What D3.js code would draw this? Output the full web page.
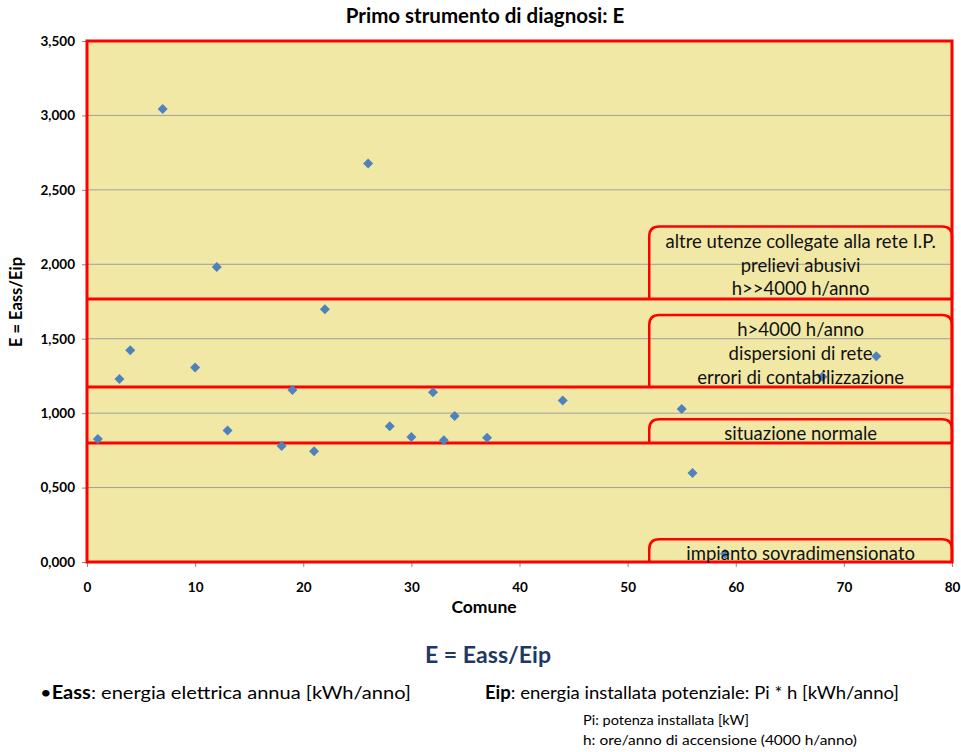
<!DOCTYPE html>
<html>
<head>
<meta charset="utf-8">
<script src="https://cdn.jsdelivr.net/npm/d3@7"></script>
<style>
  body { margin: 0; background: #fff; }
  text { font-family: Lato, "Open Sans", sans-serif; }
</style>
</head>
<body>
<div id="chart"></div>
<script>
// scatter of E = Eass/Eip per comune

var comuneX = [1, 3, 4, 7, 10, 12, 13, 18, 19, 21, 22, 26, 28, 30, 32, 33, 34, 37, 44, 55, 56, 59, 68, 73];
var valoreE = [0.826, 1.23, 1.423, 3.044, 1.306, 1.982, 0.883, 0.78, 1.156, 0.744, 1.698, 2.677, 0.912, 0.84, 1.14, 0.818, 0.981, 0.835, 1.085, 1.028, 0.598, 0.056, 1.245, 1.382];

var xTicks = [0, 10, 20, 30, 40, 50, 60, 70, 80];
var yTicks = [0, 0.5, 1, 1.5, 2, 2.5, 3, 3.5];

// soglie (linee rosse)
var soglie = [0.8, 1.176, 1.767];

// zone annotate: from/to in E, testo
var zoneTop = [2.253, 1.66, 0.959, 0.153];
var zoneBottom = [1.767, 1.176, 0.8, 0];
var zoneLabels = [
    ["altre utenze collegate alla rete I.P.", "prelievi abusivi", "h>>4000 h/anno"],
    ["h>4000 h/anno", "dispersioni di rete", "errori di contabilizzazione"],
    ["situazione normale"],
    ["impianto sovradimensionato"]
];
var zoneXStart = 52;

var W = 961, H = 752;
var margin = { top: 41, right: 9, bottom: 190, left: 87 },
    width = W - margin.left - margin.right,
    height = H - margin.top - margin.bottom;

var svgRoot = d3.select("#chart").append("svg")
    .attr("width", W)
    .attr("height", H);

var svg = svgRoot.append("g")
    .attr("transform", "translate(" + margin.left + "," + margin.top + ")");

var x = d3.scaleLinear().domain([0, 80]).range([0, width]);
var y = d3.scaleLinear().domain([0, 3.5]).range([height, 0]);

// plot background
svg.append("rect")
    .attr("width", width)
    .attr("height", height)
    .attr("fill", "#F2E8A5");

// gridlines
svg.append("g")
    .selectAll("line")
    .data(yTicks.filter(function (d) { return d > 0 && d < 3.5; }))
    .enter()
    .append("line")
    .attr("x1", 0)
    .attr("x2", width)
    .attr("y1", function (d) { return y(d); })
    .attr("y2", function (d) { return y(d); })
    .attr("stroke", "#9f9f9f")
    .attr("stroke-width", 1);

// axes
var fmtY = function (d) { return d3.format(".3f")(d).replace(".", ","); };

var yAxis = svg.append("g")
    .call(d3.axisLeft(y).tickValues(yTicks).tickFormat(fmtY).tickSize(5).tickPadding(7));
var xAxis = svg.append("g")
    .attr("transform", "translate(0," + height + ")")
    .call(d3.axisBottom(x).tickValues(xTicks).tickSize(5).tickPadding(15));

[xAxis, yAxis].forEach(function (a) {
    a.select(".domain").remove();
    a.selectAll("line").attr("stroke", "#888");
    a.selectAll("text")
        .style("font-size", "13.5px")
        .style("font-weight", "bold")
        .attr("fill", "#000");
});

// top-rounded box path
function boxPath(x0, y0, x1, y1, r) {
    return "M" + x0 + "," + y1 +
        "L" + x0 + "," + (y0 + r) +
        "Q" + x0 + "," + y0 + " " + (x0 + r) + "," + y0 +
        "L" + (x1 - r) + "," + y0 +
        "Q" + x1 + "," + y0 + " " + x1 + "," + (y0 + r) +
        "L" + x1 + "," + y1;
}

// annotation boxes
svg.append("g")
    .selectAll("path")
    .data(zoneTop)
    .enter()
    .append("path")
    .attr("d", function (d, i) { return boxPath(x(zoneXStart), y(d), width, y(zoneBottom[i]), 10); })
    .attr("fill", "none")
    .attr("stroke", "#FF0000")
    .attr("stroke-width", 2.5);

// threshold lines
svg.append("g")
    .selectAll("line")
    .data(soglie)
    .enter()
    .append("line")
    .attr("x1", 0)
    .attr("x2", width)
    .attr("y1", function (d) { return y(d); })
    .attr("y2", function (d) { return y(d); })
    .attr("stroke", "#FF0000")
    .attr("stroke-width", 3);

// frame
svg.append("rect")
    .attr("width", width)
    .attr("height", height)
    .attr("fill", "none")
    .attr("stroke", "#FF0000")
    .attr("stroke-width", 3);

// points (square rotated 45deg, like excel diamond)
svg.append("g")
    .selectAll("path")
    .data(comuneX)
    .enter()
    .append("path")
    .attr("d", d3.symbol().type(d3.symbolSquare).size(50))
    .attr("transform", function (d, i) { return "translate(" + x(d) + "," + y(valoreE[i]) + ") rotate(45)"; })
    .attr("fill", "#4F81BD");

// box labels
zoneLabels.forEach(function (lines, i) {
    var cy = (y(zoneTop[i]) + y(zoneBottom[i])) / 2 + 2.5;
    var cx = (x(zoneXStart) + width) / 2;
    var lh = 23.7;
    lines.forEach(function (t, j) {
        svg.append("text")
            .text(t)
            .attr("x", cx)
            .attr("y", cy + (j - (lines.length - 1) / 2) * lh)
            .attr("dy", "0.35em")
            .attr("text-anchor", "middle")
            .style("font-size", "18.5px")
            .attr("fill", "#111");
    });
});

// titles
svgRoot.append("text")
    .text("Primo strumento di diagnosi: E")
    .attr("x", 485).attr("y", 23)
    .attr("text-anchor", "middle")
    .style("font-size", "20.5px").style("font-weight", "bold");

svgRoot.append("text")
    .text("Comune")
    .attr("x", 484).attr("y", 613)
    .attr("text-anchor", "middle")
    .style("font-size", "17.5px").style("font-weight", "bold");

svgRoot.append("text")
    .text("E  = Eass/Eip")
    .attr("transform", "translate(22,302) rotate(-90)")
    .attr("text-anchor", "middle")
    .style("font-size", "16.5px").style("font-weight", "bold");

// formula and notes below chart
svgRoot.append("text")
    .text("E = Eass/Eip")
    .attr("x", 425).attr("y", 663)
    .attr("textLength", 126).attr("lengthAdjust", "spacingAndGlyphs")
    .style("font-size", "22px").style("font-weight", "bold")
    .attr("fill", "#1F3864");

var t1 = svgRoot.append("text")
    .attr("x", 40).attr("y", 699)
    .attr("textLength", 371).attr("lengthAdjust", "spacingAndGlyphs")
    .style("font-size", "18px");
t1.append("tspan").text("•");
t1.append("tspan").text("Eass").style("font-weight", "bold");
t1.append("tspan").text(": energia elettrica annua [kWh/anno]");

var t2 = svgRoot.append("text")
    .attr("x", 485).attr("y", 699)
    .attr("textLength", 414).attr("lengthAdjust", "spacingAndGlyphs")
    .style("font-size", "18px");
t2.append("tspan").text("Eip").style("font-weight", "bold");
t2.append("tspan").text(": energia installata potenziale: Pi * h [kWh/anno]");

svgRoot.append("text")
    .text("Pi: potenza installata [kW]")
    .attr("x", 583).attr("y", 725)
    .attr("textLength", 166).attr("lengthAdjust", "spacingAndGlyphs")
    .style("font-size", "14px");

svgRoot.append("text")
    .text("h: ore/anno di accensione (4000 h/anno)")
    .attr("x", 583).attr("y", 745)
    .attr("textLength", 274).attr("lengthAdjust", "spacingAndGlyphs")
    .style("font-size", "14px");
</script>
</body>
</html>
